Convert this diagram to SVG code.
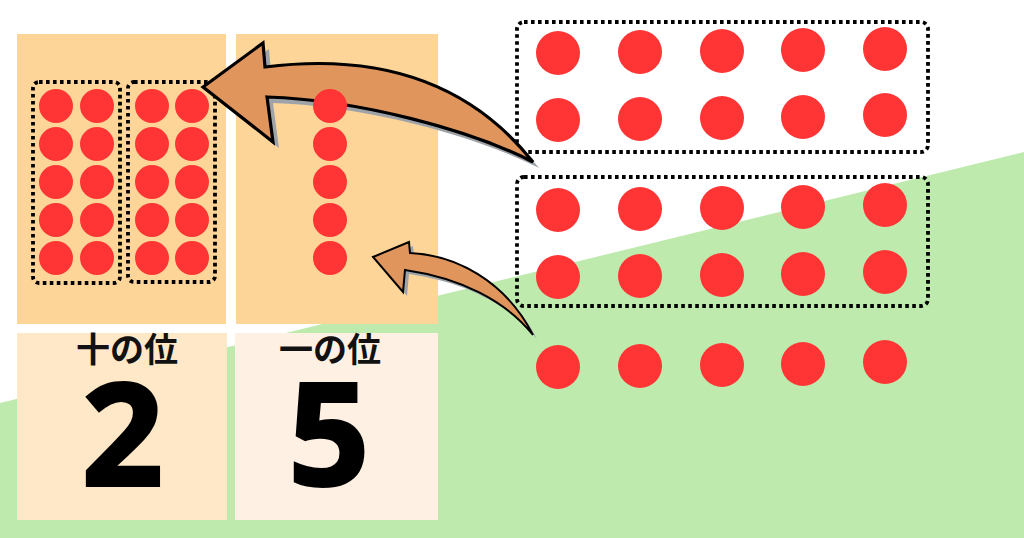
<svg xmlns="http://www.w3.org/2000/svg" width="1024" height="538" viewBox="0 0 1024 538">
<style>
.dot{fill:#FF3434}
.box{fill:none;stroke:#000;stroke-width:3.8;stroke-dasharray:3.6 3.4}
.arrow{fill:#E0955C;stroke:#000;stroke-linejoin:miter}
.shadow{fill:#9EA3AA}
.lbl{font-family:"Noto Sans CJK JP","Noto Sans",sans-serif;font-weight:700;font-size:34px;fill:#111;text-anchor:middle}
.num{font-family:"Noto Sans","DejaVu Sans",sans-serif;font-weight:800;font-size:146px;fill:#000;text-anchor:middle}
</style>
<defs>
<path id="bigArrow" d="M265,67 C360,55 460,70 533,162 C470,130 360,100 267,97 L273,142 L203,87 L263,43 Z"/>
<path id="smallArrow" d="M410,253 C455,255 505,280 533,335 C505,300 460,278 405,270 L403,292 L373,257 L409,242 Z"/>
</defs>
<rect width="1024" height="538" fill="#fff"/>
<polygon points="0,403 1024,152 1024,538 0,538" fill="#BEEAAE"/>

<g id="tens-panel">
<rect x="17" y="34" width="209" height="290" fill="#FDD598"/>
<g id="tens-group-1">
<rect class="box" x="33" y="82" width="87" height="201" rx="6"/>
<circle class="dot" cx="56" cy="106" r="17"/><circle class="dot" cx="97" cy="106" r="17"/>
<circle class="dot" cx="56" cy="144" r="17"/><circle class="dot" cx="97" cy="144" r="17"/>
<circle class="dot" cx="56" cy="182" r="17"/><circle class="dot" cx="97" cy="182" r="17"/>
<circle class="dot" cx="56" cy="220" r="17"/><circle class="dot" cx="97" cy="220" r="17"/>
<circle class="dot" cx="56" cy="258" r="17"/><circle class="dot" cx="97" cy="258" r="17"/>
</g>
<g id="tens-group-2">
<rect class="box" x="128" y="82" width="87" height="200" rx="6"/>
<circle class="dot" cx="152" cy="106" r="17"/><circle class="dot" cx="192" cy="106" r="17"/>
<circle class="dot" cx="152" cy="144" r="17"/><circle class="dot" cx="192" cy="144" r="17"/>
<circle class="dot" cx="152" cy="182" r="17"/><circle class="dot" cx="192" cy="182" r="17"/>
<circle class="dot" cx="152" cy="220" r="17"/><circle class="dot" cx="192" cy="220" r="17"/>
<circle class="dot" cx="152" cy="258" r="17"/><circle class="dot" cx="192" cy="258" r="17"/>
</g>
</g>

<g id="ones-panel">
<rect x="236" y="34" width="202" height="290" fill="#FDD598"/>
</g>

<g id="tens-label">
<rect x="17" y="333" width="210" height="187" fill="#FFE8C7"/>
<text class="lbl" x="127" y="362">十の位</text>
<text class="num" x="123" y="487">2</text>
</g>
<g id="ones-label">
<rect x="235" y="333" width="203" height="187" fill="#FEF1E3"/>
<text class="lbl" x="330" y="362">一の位</text>
<text class="num" x="329" y="487">5</text>
</g>

<g id="right-group-1">
<rect class="box" x="517" y="22" width="411" height="130" rx="7"/>
<circle class="dot" cx="558" cy="53" r="22"/><circle class="dot" cx="640" cy="52" r="22"/><circle class="dot" cx="722" cy="51" r="22"/><circle class="dot" cx="803" cy="50" r="22"/><circle class="dot" cx="885" cy="49" r="22"/>
<circle class="dot" cx="558" cy="120" r="22"/><circle class="dot" cx="640" cy="119" r="22"/><circle class="dot" cx="722" cy="118" r="22"/><circle class="dot" cx="803" cy="117" r="22"/><circle class="dot" cx="885" cy="115" r="22"/>
</g>
<g id="right-group-2">
<rect class="box" x="517" y="177" width="411" height="129" rx="7"/>
<circle class="dot" cx="558" cy="210" r="22"/><circle class="dot" cx="640" cy="209" r="22"/><circle class="dot" cx="722" cy="208" r="22"/><circle class="dot" cx="803" cy="207" r="22"/><circle class="dot" cx="885" cy="205" r="22"/>
<circle class="dot" cx="558" cy="277" r="22"/><circle class="dot" cx="640" cy="276" r="22"/><circle class="dot" cx="722" cy="275" r="22"/><circle class="dot" cx="803" cy="274" r="22"/><circle class="dot" cx="885" cy="272" r="22"/>
</g>
<g id="right-ones">
<circle class="dot" cx="558" cy="367" r="22"/><circle class="dot" cx="640" cy="366" r="22"/><circle class="dot" cx="722" cy="365" r="22"/><circle class="dot" cx="803" cy="364" r="22"/><circle class="dot" cx="885" cy="362" r="22"/>
</g>

<g id="connectors">
<use href="#bigArrow" class="shadow" transform="translate(6,6)"/>
<use href="#bigArrow" class="arrow" stroke-width="3.2"/>
<use href="#smallArrow" class="shadow" transform="translate(4,4)"/>
<use href="#smallArrow" class="arrow" stroke-width="2"/>
</g>

<g id="ones-dots">
<circle class="dot" cx="330" cy="106" r="17"/>
<circle class="dot" cx="330" cy="144" r="17"/>
<circle class="dot" cx="330" cy="182" r="17"/>
<circle class="dot" cx="330" cy="220" r="17"/>
<circle class="dot" cx="330" cy="258" r="17"/>
</g>
</svg>
